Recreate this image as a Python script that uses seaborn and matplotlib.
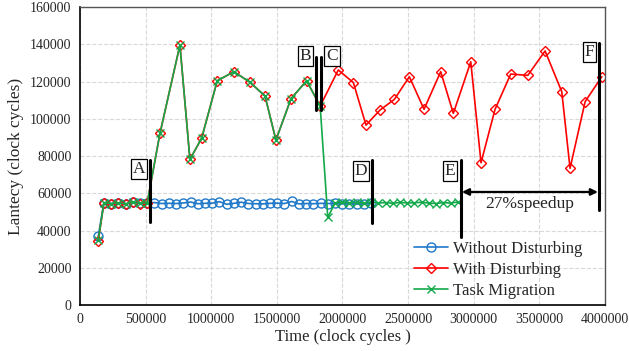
# ============================================================
# Latency over time : task migration chart
# ============================================================

import numpy as np
import pandas as pd
import matplotlib
matplotlib.use("Agg")
import matplotlib.pyplot as plt
import seaborn as sns

# ============================================================
# Data
# ============================================================

blue_x = [140000, 183000, 238000, 293000, 348000, 403000, 458000, 513000,
          568000, 623000, 678000, 733000, 788000, 843000, 898000, 953000,
          1008000, 1063000, 1118000, 1173000, 1228000, 1283000, 1338000,
          1393000, 1448000, 1503000, 1558000, 1613000, 1668000, 1723000,
          1778000, 1833000, 1888000, 1943000, 1998000, 2053000, 2108000,
          2163000, 2218000]
blue_y = [37000, 55000, 54500, 54800, 54200, 55200, 54600, 54800,
          55000, 54500, 54600, 54500, 54800, 55300, 54400, 54600,
          54700, 55500, 54100, 54600, 55200, 54500, 54400,
          54300, 54600, 54700, 54500, 55600, 54300, 54500,
          54400, 54600, 54500, 54600, 54300, 54400, 54200,
          54300, 54600]

red_x = [140000, 183000, 238000, 293000, 348000, 403000, 458000, 513000,
         610000, 762000, 838000, 927000, 1046000, 1173000, 1295000,
         1410000, 1493000, 1608000, 1727000, 1830000, 1968000, 2083000,
         2179000, 2286000, 2395000, 2509000, 2621000, 2748000, 2844000,
         2977000, 3055000, 3162000, 3281000, 3411000, 3543000, 3670000,
         3733000, 3848000, 3975000]
red_y = [34500, 54800, 54300, 54900, 54200, 55300, 54500, 55000,
         92200, 139600, 78200, 89500, 120400, 125300, 119600,
         112200, 88600, 110800, 120400, 106800, 126200, 119400,
         96600, 104700, 110400, 122600, 105100, 125300, 102900,
         130600, 76400, 105100, 124000, 123300, 136400, 114500,
         73400, 109200, 122600]

green_x = [140000, 183000, 238000, 293000, 348000, 403000, 458000, 513000,
           610000, 762000, 838000, 927000, 1046000, 1173000, 1295000,
           1410000, 1493000, 1608000, 1727000, 1830000, 1888000, 1943000,
           1998000, 2053000, 2108000, 2163000, 2218000, 2273000, 2328000,
           2383000, 2438000, 2493000, 2548000, 2603000, 2658000, 2713000,
           2768000, 2823000, 2878000]
green_y = [35000, 54900, 54400, 54800, 54300, 55200, 54600, 54900,
           92200, 139600, 78200, 89500, 120400, 125300, 119600,
           112200, 88600, 110800, 120400, 106800, 47000, 54800,
           55200, 54900, 55100, 54700, 55200, 54800, 55000,
           54600, 55100, 54800, 54900, 55200, 54700, 54500,
           55000, 54700, 55300]

# event markers (vertical bars with boxed letters)
event_labels = ["A", "B", "C", "D", "E", "F"]
event_x = [533000, 1800000, 1840000, 2225000, 2903000, 3954000]
event_top = [77900, 133200, 133200, 77900, 77900, 140700]
event_bottom = [44600, 104700, 104700, 44000, 36500, 51000]
label_x = [450000, 1720000, 1920000, 2140000, 2820000, 3880000]
label_y = [73000, 133700, 133700, 72000, 72000, 135800]

speedup_text = "27%speedup"
speedup_start = 2910000
speedup_end = 3945000
speedup_y = 60700

# ============================================================
# Plot
# ============================================================

sns.set_style("whitegrid", {"grid.linestyle": "--", "grid.color": "#d9d9d9",
                            "axes.edgecolor": "black"})
plt.rcParams["font.family"] = ["Liberation Serif", "DejaVu Serif"]

fig = plt.figure(figsize=(6.29, 3.51), dpi=100)
ax = fig.add_axes([0.127, 0.131, 0.835, 0.849])

blue = "#1f78c8"
red = "#ff0000"
green = "#13a84a"

sns.lineplot(x=blue_x, y=blue_y, ax=ax, color=blue, lw=1.2,
             marker="o", markersize=6.5, markerfacecolor="none",
             markeredgecolor=blue, markeredgewidth=1.0,
             label="Without Disturbing")
sns.lineplot(x=red_x, y=red_y, ax=ax, color=red, lw=1.2,
             marker="D", markersize=5.5, markerfacecolor="none",
             markeredgecolor=red, markeredgewidth=1.0,
             label="With Disturbing")
sns.lineplot(x=green_x, y=green_y, ax=ax, color=green, lw=1.2,
             marker="x", markersize=5.5, markeredgecolor=green,
             markeredgewidth=1.0, label="Task Migration")

# vertical event bars + boxed letters
for lab, x, top, bot, lx, ly in zip(event_labels, event_x, event_top,
                                     event_bottom, label_x, label_y):
    ax.plot([x, x], [bot, top], color="black", lw=2.2, zorder=5)
    ax.text(lx, ly, lab, ha="center", va="center", fontsize=12.5, zorder=6,
            bbox=dict(boxstyle="square,pad=0.1", fc="white", ec="black", lw=0.9))

ax.annotate("", xy=(speedup_end, speedup_y), xytext=(speedup_start, speedup_y),
            arrowprops=dict(arrowstyle="<|-|>", color="black", lw=1.6,
                            mutation_scale=10, shrinkA=0, shrinkB=0))
ax.text((speedup_start + speedup_end) / 2, speedup_y - 2000, speedup_text,
        ha="center", va="top", fontsize=12.5)

ax.set_xlim(0, 4000000)
ax.set_ylim(0, 160000)
ax.set_xticks(np.arange(0, 4000001, 500000))
ax.set_yticks(np.arange(0, 160001, 20000))
ax.ticklabel_format(axis="both", style="plain", useOffset=False)
ax.tick_params(labelsize=10, length=0, pad=6)
ax.set_xlabel("Time (clock cycles )", fontsize=12, labelpad=2)
ax.set_ylabel("Lantecy (clock cycles)", fontsize=12.5, labelpad=4)

for side in ["left", "bottom"]:
    ax.spines[side].set_color("black")
    ax.spines[side].set_linewidth(1.2)
for side in ["top", "right"]:
    ax.spines[side].set_color("#555555")
    ax.spines[side].set_linewidth(1.0)

ax.legend(loc="lower right", frameon=False, fontsize=12, handlelength=2.0,
          handletextpad=0.3, labelspacing=0.3, borderaxespad=0.2,
          bbox_to_anchor=(0.975, -0.012))

plt.savefig("out.png", dpi=100)
